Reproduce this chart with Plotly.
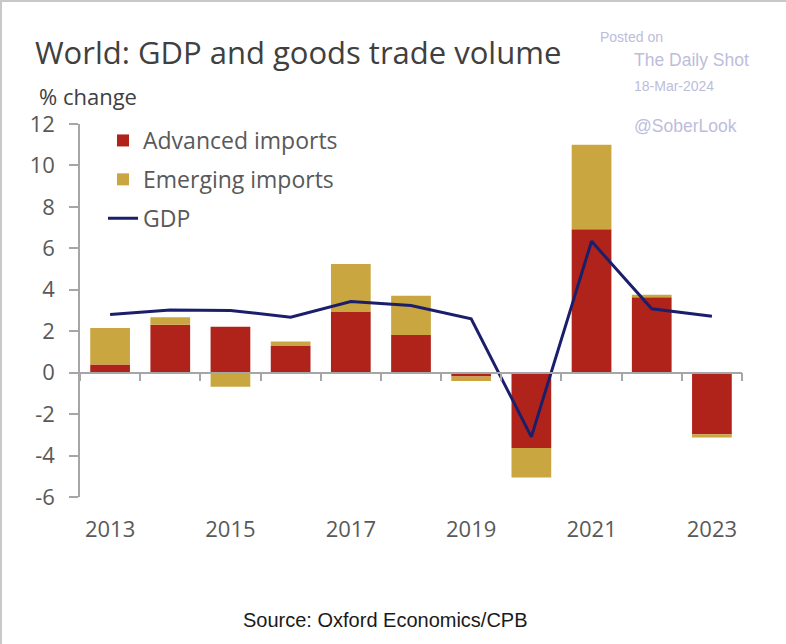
import plotly.graph_objects as go

# ---- data ----
years = [2013, 2014, 2015, 2016, 2017, 2018, 2019, 2020, 2021, 2022, 2023]
advanced_imports = [0.39, 2.31, 2.21, 1.29, 2.95, 1.82, -0.18, -3.64, 6.92, 3.64, -2.97]
emerging_imports = [1.77, 0.37, -0.68, 0.21, 2.29, 1.89, -0.22, -1.42, 4.08, 0.12, -0.16]
gdp = [2.81, 3.03, 3.00, 2.68, 3.43, 3.24, 2.60, -3.10, 6.34, 3.08, 2.72]
xtick_years = [2013, 2015, 2017, 2019, 2021, 2023]
ytick_vals = [-6, -4, -2, 0, 2, 4, 6, 8, 10, 12]
boundaries = [y - 0.5 for y in years] + [years[-1] + 0.5]

RED = "#B0231A"
GOLD = "#C9A640"
NAVY = "#1B1F6B"
AXIS = "#A6A6A6"
TXT = "#595959"
WM = "#BDBDDB"
FONT = "Open Sans"

W, H = 786, 644
L, R, T, B = 80, 44, 124, 147
pw, ph = W - L - R, H - T - B


def px(x):
    return (x - L) / pw


def py(y):
    return (H - B - y) / ph


fig = go.Figure()
fig.add_trace(go.Bar(x=years, y=advanced_imports, name="Advanced imports",
                     marker=dict(color=RED, line=dict(width=0)), width=0.66,
                     legendgroup="a"))
fig.add_trace(go.Bar(x=years, y=emerging_imports, name="Emerging imports",
                     marker=dict(color=GOLD, line=dict(width=0)), width=0.66,
                     legendgroup="b"))
fig.add_trace(go.Scatter(x=years, y=gdp, name="GDP", mode="lines",
                         line=dict(color=NAVY, width=3), xaxis="x2",
                         legendgroup="c"))

xr = [years[0] - 0.5, years[-1] + 0.5]
fig.update_layout(
    width=W, height=H,
    margin=dict(l=L, r=R, t=T, b=B),
    paper_bgcolor="white", plot_bgcolor="white",
    barmode="relative",
    font=dict(family=FONT, color=TXT),
    title=dict(text="World: GDP and goods trade volume",
               x=35 / W, xanchor="left", xref="container",
               y=1 - 53 / H, yanchor="middle", yref="container",
               font=dict(size=31, color="#404040", family=FONT)),
    xaxis=dict(range=xr, tickmode="array", tickvals=xtick_years,
               ticktext=[str(y) for y in xtick_years],
               showline=False, showgrid=False, zeroline=False, ticks="",
               tickfont=dict(size=22, color=TXT), ticklabelstandoff=17),
    xaxis2=dict(range=xr, overlaying="x", anchor="free", position=1 / 3,
                side="bottom", tickmode="array", tickvals=boundaries,
                showticklabels=False, ticks="outside", ticklen=8,
                tickwidth=1.5, tickcolor=AXIS, showline=True,
                linecolor=AXIS, linewidth=1.5, showgrid=False, zeroline=False),
    yaxis=dict(range=[-6, 12], tickmode="array", tickvals=ytick_vals,
               ticktext=[str(v) for v in ytick_vals],
               showline=True, linecolor=AXIS, linewidth=1.5,
               ticks="outside", ticklen=9, tickwidth=1.5, tickcolor=AXIS,
               showgrid=False, zeroline=False,
               tickfont=dict(size=22, color=TXT), ticklabelstandoff=10),
    legend=dict(x=px(103), y=py(119), xanchor="left", yanchor="top",
                traceorder="grouped", tracegroupgap=6,
                font=dict(size=23, color=TXT, family=FONT),
                bgcolor="rgba(0,0,0,0)"),
    showlegend=True,
)

annots = [
    dict(text="% change", x=px(37), y=py(96), xanchor="left", yanchor="middle",
         font=dict(size=22, color="#404040", family=FONT)),
    dict(text="Posted on", x=px(598), y=py(37), xanchor="left", yanchor="middle",
         font=dict(size=14, color=WM, family="Liberation Sans")),
    dict(text="The Daily Shot", x=px(632), y=py(60), xanchor="left", yanchor="middle",
         font=dict(size=17.5, color=WM, family="Liberation Sans")),
    dict(text="18-Mar-2024", x=px(632), y=py(86), xanchor="left", yanchor="middle",
         font=dict(size=14, color=WM, family="Liberation Sans")),
    dict(text="@SoberLook", x=px(632), y=py(126), xanchor="left", yanchor="middle",
         font=dict(size=17.5, color=WM, family="Liberation Sans")),
    dict(text="Source: Oxford Economics/CPB", x=px(385), y=py(620),
         xanchor="center", yanchor="middle",
         font=dict(size=20, color="#1a1a1a", family="Liberation Sans")),
]
for a in annots:
    a.update(xref="paper", yref="paper", showarrow=False)
fig.update_layout(annotations=annots)

fig.update_layout(shapes=[
    dict(type="line", xref="paper", yref="paper", x0=px(1), x1=px(1),
         y0=py(0), y1=py(H), line=dict(color="#C8C8C8", width=2)),
    dict(type="line", xref="paper", yref="paper", x0=px(0), x1=px(W),
         y0=py(1), y1=py(1), line=dict(color="#C8C8C8", width=2)),
])

fig.write_html("out.html",
               config={"displayModeBar": False},
               post_script="document.body.style.margin='0';document.body.style.overflow='hidden';")
